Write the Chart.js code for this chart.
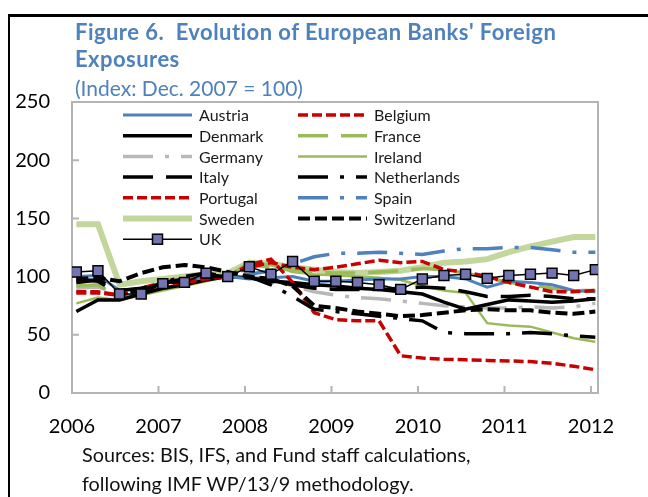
<!DOCTYPE html>
<html>
<head>
<meta charset="utf-8">
<script src="https://cdn.jsdelivr.net/npm/chart.js@4.4.0/dist/chart.umd.min.js"></script>
<style>
  body { margin: 0; background: #fff; }
  #wrap { position: relative; width: 648px; height: 497px; overflow: hidden; font-family: Lato, sans-serif; }
  #chart { position: absolute; left: 0; top: 0; }
  .rule-top { position: absolute; left: 8px; top: 14px; width: 640px; height: 3px; background: #000; }
  .rule-left { position: absolute; left: 8px; top: 14px; width: 2px; height: 483px; background: #000; }
  .txt { position: absolute; white-space: nowrap; line-height: 1; }
  .title { left: 75px; color: #4f81bd; font-weight: bold; font-size: 22px; letter-spacing: 0.45px; }
  .sub { left: 75px; top: 77px; color: #4f81bd; font-size: 21px; }
  .note { left: 82px; color: #111; font-size: 19.8px; }
</style>
</head>
<body>
<div id="wrap">
  <canvas id="chart" width="648" height="497"></canvas>
  <div class="rule-top"></div>
  <div class="rule-left"></div>
  <div class="txt title" style="top:21px">Figure 6.&nbsp; Evolution of European Banks' Foreign</div>
  <div class="txt title" style="top:48px">Exposures</div>
  <div class="txt sub">(Index: Dec. 2007 = 100)</div>
  <div class="txt note" style="top:445px">Sources: BIS, IFS, and Fund staff calculations,</div>
  <div class="txt note" style="top:474px">following IMF WP/13/9 methodology.</div>
</div>
<script>
// quarterly observations, placed on a yearly axis
const dates = [2006.05, 2006.3, 2006.55, 2006.8, 2007.05, 2007.3, 2007.55, 2007.8,
  2008.05, 2008.3, 2008.55, 2008.8, 2009.05, 2009.3, 2009.55, 2009.8,
  2010.05, 2010.3, 2010.55, 2010.8, 2011.05, 2011.3, 2011.55, 2011.8, 2012.05];
const yearTicks = [2006, 2007, 2008, 2009, 2010, 2011, 2012];

const austria = [100, 101, 88, 90, 94, 97, 101, 100, 98, 99, 100, 96, 96, 97, 98, 98, 100, 100, 98, 91, 96, 95, 93, 88, 87];
const belgium = [86, 86, 84, 90, 95, 96, 100, 100, 110, 115, 95, 69, 63, 62, 62, 32, 30, 29, 28.5, 28, 27.5, 27, 25.5, 23, 20];
const denmark = [70, 80, 80, 85, 90, 93, 97, 100, 99, 96, 95, 93, 92, 90, 89, 87, 85, 78, 72, 76, 80, 79, 78, 79, 81];
const france = [92, 93, 82, 85, 90, 93, 98, 100, 110, 108, 106, 104, 103, 103, 104, 105, 107, 106, 103, 99, 95, 93, 90, 88, 88];
const germany = [90, 91, 85, 87, 93, 95, 98, 100, 100, 98, 92, 87, 84, 82, 81, 79, 77, 75, 74, 73, 73, 74, 73, 74, 77];
const ireland = [77, 82, 80, 84, 88, 92, 96, 100, 113, 110, 104, 102, 101, 100, 99, 97, 92, 88, 86, 60, 58, 57, 52, 47, 44];
const italy = [95, 97, 88, 90, 95, 98, 100, 100, 99, 96, 93, 90, 89, 89, 89, 90, 91, 90, 87, 83, 83, 84, 83, 81, 81];
const netherlands = [98, 96, 85, 88, 95, 100, 103, 100, 100, 93, 83, 72, 70, 68, 66, 64, 62, 52, 51, 51, 51, 52, 51, 49, 48];
const portugal = [87, 87, 84, 88, 93, 95, 98, 100, 108, 112, 108, 106, 108, 111, 114, 112, 113, 106, 104, 100, 95, 91, 87, 87, 88];
const spain = [95, 98, 86, 88, 94, 96, 100, 100, 102, 105, 111, 117, 120, 120, 121, 120, 119, 122, 124, 124, 125, 125, 123, 121, 121];
const sweden = [145, 145, 93, 96, 98, 100, 102, 103, 112, 111, 108, 106, 104, 103, 104, 105, 108, 112, 113, 115, 121, 126, 130, 134, 134];
const switzerland = [98, 99, 96, 103, 108, 110, 108, 104, 100, 98, 92, 75, 73, 70, 68, 66, 67, 69, 71, 72, 71, 71, 69, 68, 70];
const uk = [104, 105, 85, 85, 94, 95, 103, 100, 108.5, 102, 113, 96, 96, 95, 93, 89, 98, 101, 102, 98.5, 101, 102, 103, 101, 106];

const FONT = 'Lato, sans-serif';
const blue = '#4f81bd', red = '#c80000', green = '#9bbb59', pale = '#c3d69b', grey = '#b8b8b8';
const longDash = [30, 13], dashDot = [30, 12, 4, 12], shortDash = [10, 4];

function series(label, values, color, width, dash, order) {
  return {
    label: label,
    data: values.map((v, i) => ({ x: dates[i], y: v })),
    borderColor: color,
    borderWidth: width,
    borderDash: dash,
    pointRadius: 0,
    tension: 0,
    fill: false,
    order: order
  };
}

const datasets = [
  series('Austria', austria, blue, 3, [], 5),
  series('Belgium', belgium, red, 3.5, shortDash, 4),
  series('Denmark', denmark, '#000', 3.5, [], 6),
  series('France', france, green, 3.5, longDash, 8),
  series('Germany', germany, grey, 3.5, dashDot, 9),
  series('Ireland', ireland, green, 2.5, [], 7),
  series('Italy', italy, '#000', 3.5, longDash, 3),
  series('Netherlands', netherlands, '#000', 3.5, dashDot, 3),
  series('Portugal', portugal, red, 3.5, shortDash, 4),
  series('Spain', spain, blue, 3.5, dashDot, 5),
  series('Sweden', sweden, pale, 6, [], 12),
  series('Switzerland', switzerland, '#000', 4, [12, 5], 2),
  series('UK', uk, '#000', 1.5, [], 0)
];
const ukSet = datasets[12];
ukSet.pointRadius = 7;
ukSet.pointStyle = 'rect';
ukSet.pointBackgroundColor = '#7474b2';
ukSet.pointBorderColor = '#000';
ukSet.pointBorderWidth = 1.5;

// plot frame and inward tick marks
const frame = {
  id: 'frame',
  beforeDatasetsDraw(chart) {
    const { ctx, chartArea: a, scales } = chart;
    ctx.save();
    ctx.strokeStyle = '#b4b4b4';
    ctx.lineWidth = 2;
    ctx.strokeRect(a.left, a.top, a.right - a.left, a.bottom - a.top);
    ctx.beginPath();
    scales.x.ticks.forEach(t => {
      const px = scales.x.getPixelForValue(t.value);
      ctx.moveTo(px, a.bottom);
      ctx.lineTo(px, a.bottom - 7);
    });
    scales.y.ticks.forEach(t => {
      const py = scales.y.getPixelForValue(t.value);
      ctx.moveTo(a.left, py);
      ctx.lineTo(a.left + 7, py);
    });
    ctx.stroke();
    ctx.restore();
  }
};

// two column legend inside the plot
const legendBox = {
  id: 'legendBox',
  afterDatasetsDraw(chart) {
    const ctx = chart.ctx;
    const cols = [123, 298];
    const top = 115, rowH = 20.7, sample = 69;
    ctx.save();
    ctx.font = '16px ' + FONT;
    ctx.textBaseline = 'middle';
    datasets.forEach((ds, i) => {
      const x = cols[i % 2];
      const y = top + Math.floor(i / 2) * rowH;
      ctx.strokeStyle = ds.borderColor;
      ctx.lineWidth = ds.borderWidth;
      ctx.setLineDash(ds.borderDash);
      ctx.beginPath();
      ctx.moveTo(x, y);
      ctx.lineTo(x + sample, y);
      ctx.stroke();
      ctx.setLineDash([]);
      if (ds === ukSet) {
        ctx.fillStyle = ds.pointBackgroundColor;
        ctx.lineWidth = 1.5;
        ctx.strokeStyle = '#000';
        ctx.fillRect(x + sample / 2 - 5, y - 5, 10, 10);
        ctx.strokeRect(x + sample / 2 - 5, y - 5, 10, 10);
      }
      ctx.fillStyle = '#1a1a1a';
      ctx.fillText(ds.label, x + sample + 7, y + 1);
    });
    ctx.restore();
  }
};

new Chart(document.getElementById('chart'), {
  type: 'line',
  data: { datasets: datasets },
  options: {
    responsive: false,
    animation: false,
    layout: { padding: { top: 102, right: 50, bottom: 54, left: 0 } },
    plugins: { legend: { display: false }, tooltip: { enabled: false } },
    scales: {
      x: {
        type: 'linear',
        min: 2006,
        max: 2012.081,
        afterBuildTicks: s => { s.ticks = yearTicks.map(v => ({ value: v })); },
        afterFit: s => { s.height = 50; },
        grid: { display: false, drawTicks: false },
        border: { display: false },
        ticks: {
          callback: v => String(v),
          font: { family: FONT, size: 20 },
          color: '#000',
          padding: 22,
          maxRotation: 0,
          autoSkip: false
        }
      },
      y: {
        min: 0,
        max: 250,
        afterFit: s => { s.width = 72; },
        grid: { display: false, drawTicks: false },
        border: { display: false },
        ticks: {
          stepSize: 50,
          font: { family: FONT, size: 20 },
          color: '#000',
          padding: 22
        }
      }
    }
  },
  plugins: [frame, legendBox]
});
</script>
</body>
</html>
